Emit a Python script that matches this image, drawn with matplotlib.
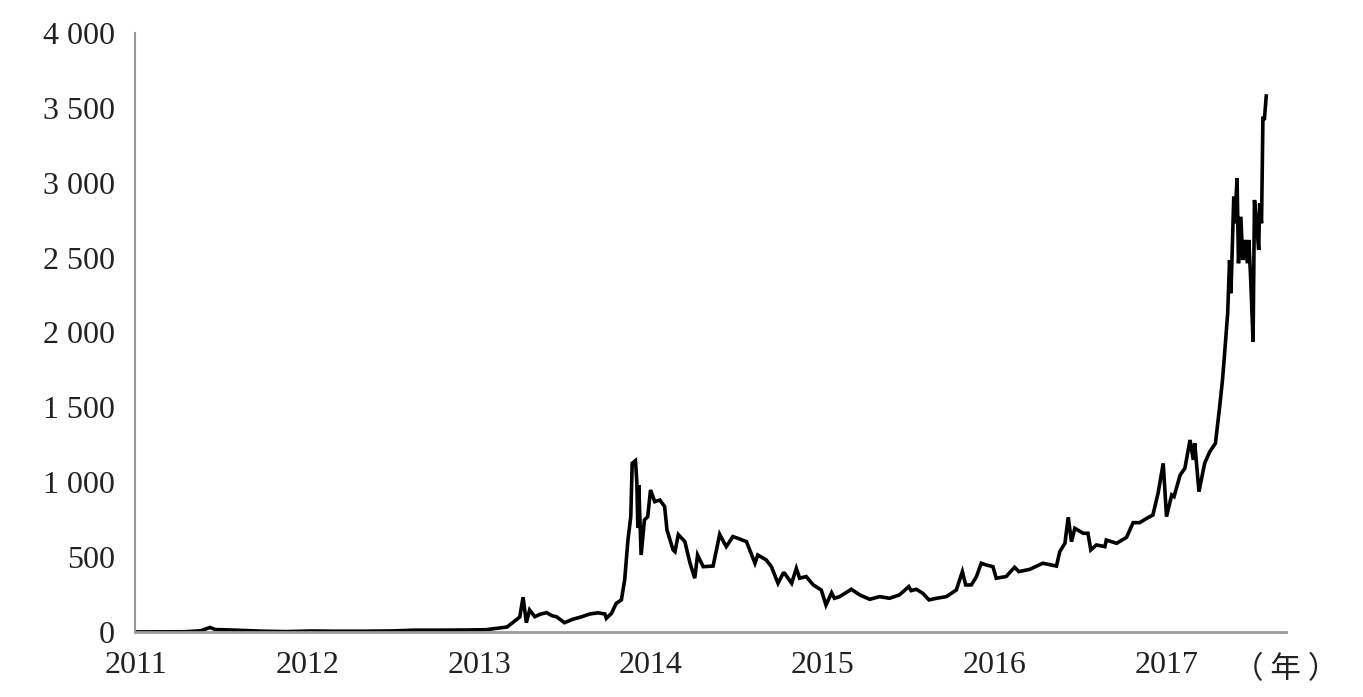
import matplotlib
matplotlib.use("Agg")
import matplotlib.pyplot as plt
from matplotlib.ticker import FuncFormatter
import pandas as pd

# bitcoin price (USD)
dates = [
    "2011-01-01", "2011-03-01", "2011-04-15", "2011-05-20", "2011-06-08", "2011-06-20",
    "2011-07-15", "2011-08-20", "2011-10-01", "2011-11-20", "2012-01-10", "2012-03-01",
    "2012-05-01", "2012-07-01", "2012-08-15", "2012-10-01", "2012-12-01", "2013-01-15",
    "2013-03-01", "2013-03-28", "2013-04-04", "2013-04-11", "2013-04-18", "2013-04-29",
    "2013-05-10", "2013-05-24", "2013-06-05", "2013-06-14", "2013-07-01", "2013-07-19",
    "2013-08-05", "2013-08-24", "2013-09-10", "2013-09-25",
    "2013-09-28", "2013-10-09", "2013-10-19", "2013-10-30", "2013-11-06", "2013-11-13",
    "2013-11-19", "2013-11-22", "2013-11-29", "2013-12-02", "2013-12-04", "2013-12-06",
    "2013-12-11", "2013-12-18", "2013-12-25", "2013-12-31", "2014-01-09", "2014-01-20",
    "2014-01-30", "2014-02-04", "2014-02-17", "2014-02-21", "2014-02-28", "2014-03-11",
    "2014-03-14", "2014-03-25", "2014-04-04", "2014-04-10", "2014-04-22", "2014-05-13",
    "2014-05-27", "2014-06-03", "2014-06-10", "2014-06-24", "2014-07-05", "2014-07-23",
    "2014-08-10", "2014-08-16",
    "2014-09-03", "2014-09-14", "2014-09-28", "2014-10-09", "2014-10-12", "2014-10-27",
    "2014-11-06", "2014-11-13", "2014-11-27", "2014-12-12", "2014-12-29", "2015-01-08",
    "2015-01-20", "2015-01-26", "2015-02-06", "2015-03-03", "2015-03-21", "2015-04-11",
    "2015-05-02", "2015-05-23", "2015-06-13", "2015-07-03", "2015-07-08", "2015-07-19",
    "2015-08-02", "2015-08-15", "2015-08-31", "2015-09-21", "2015-10-12", "2015-10-25",
    "2015-11-01", "2015-11-13", "2015-11-24", "2015-12-04", "2015-12-15", "2015-12-29",
    "2016-01-05", "2016-01-26", "2016-02-13", "2016-02-22", "2016-03-16", "2016-04-13",
    "2016-05-12", "2016-05-19", "2016-05-30", "2016-06-06", "2016-06-13", "2016-06-20",
    "2016-07-08", "2016-07-18", "2016-07-24", "2016-08-05", "2016-08-23", "2016-08-26",
    "2016-09-17", "2016-10-08", "2016-10-22", "2016-11-05", "2016-11-20", "2016-12-03",
    "2016-12-14", "2016-12-25", "2017-01-01", "2017-01-12", "2017-01-17", "2017-01-30",
    "2017-02-09", "2017-02-20", "2017-02-27", "2017-03-02", "2017-03-11", "2017-03-23",
    "2017-04-03", "2017-04-15", "2017-04-24", "2017-04-30", "2017-05-04", "2017-05-11",
    "2017-05-15", "2017-05-18", "2017-05-24", "2017-05-26", "2017-05-31", "2017-06-03",
    "2017-06-08", "2017-06-12", "2017-06-17", "2017-06-22", "2017-06-25", "2017-06-29",
    "2017-07-04", "2017-07-07", "2017-07-12", "2017-07-16", "2017-07-18", "2017-07-22",
    "2017-07-25", "2017-07-28", "2017-08-01",
]
price = [
    0.3, 0.9, 1.5, 8, 30, 16,
    14, 10, 5, 2.5, 6.5, 5,
    5, 7, 12, 12, 13, 15,
    33, 100, 232, 62, 147, 102,
    118, 129, 108, 102, 62, 85,
    100, 120, 128, 120,
    91, 124, 191, 214, 347, 614,
    770, 1126, 1144, 993, 694, 981,
    514, 748, 770, 948, 870, 881,
    837, 681, 548, 536, 650, 614,
    603, 459, 359, 514, 436, 440,
    652, 610, 570, 637, 625, 603,
    459, 514,
    481, 436, 325, 392, 392, 325,
    425, 359, 370, 314, 280, 180,
    262, 225, 236, 285, 247, 218,
    236, 225, 247, 303, 276, 285,
    258, 214, 225, 236, 280, 403,
    314, 314, 370, 459, 447, 436,
    359, 370, 432, 403, 418, 459,
    440, 536, 592, 766, 603, 692,
    659, 659, 548, 581, 570, 614,
    592, 632, 730, 730, 759, 781,
    926, 1126, 770, 915, 904, 1048,
    1093, 1282, 1149, 1260, 937, 1126,
    1204, 1260, 1505, 1683, 1839, 2128,
    2484, 2262, 2907, 2729, 3030, 2462,
    2773, 2484, 2618, 2462, 2618, 2351,
    1939, 2885, 2707, 2551, 2862, 2729,
    3441, 3419, 3579,
]
years = list(range(2011, 2018))

x = pd.to_datetime(dates)

fig = plt.figure(figsize=(13.63, 6.97), dpi=100)
ax = fig.add_axes([0.0994, 0.0933, 0.8441, 0.8594])

ax.plot(x, price, color="black", lw=2.6, solid_joinstyle="miter")

ax.set_ylim(0, 4000)
ax.set_xlim(pd.Timestamp("2011-01-01"), pd.Timestamp("2017-09-12"))
ax.set_yticks(range(0, 4001, 500))
ax.yaxis.set_major_formatter(FuncFormatter(lambda v, p: f"{int(v):,}".replace(",", " ")))
ax.set_xticks([pd.Timestamp(f"{y}-01-01") for y in years])
ax.set_xticklabels([str(y) for y in years])

for s in ["top", "right"]:
    ax.spines[s].set_visible(False)
ax.spines["left"].set_color("#9a9a9a")
ax.spines["left"].set_linewidth(1.5)
ax.spines["bottom"].set_color("#9a9a9a")
ax.spines["bottom"].set_linewidth(2)
ax.tick_params(length=0, labelsize=23)
ax.tick_params(axis="y", pad=15)
ax.tick_params(axis="x", pad=14)
for lab in ax.get_xticklabels() + ax.get_yticklabels():
    lab.set_family("Liberation Serif")
    lab.set_color("#222222")

ax.text(1.0, -0.037, "（ 年 ）", transform=ax.transAxes, ha="center", va="top",
        fontsize=22, family=["Noto Sans CJK SC", "DejaVu Sans"], color="#222222")

fig.savefig("out.png", dpi=100)
